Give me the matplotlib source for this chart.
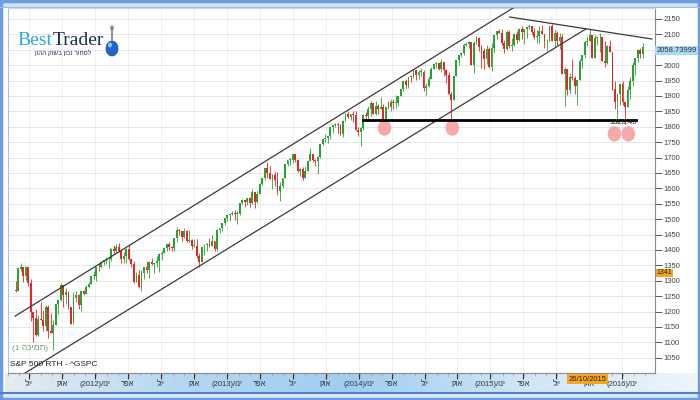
import numpy as np
import pandas as pd
import matplotlib
matplotlib.use('Agg')
import matplotlib.pyplot as plt
from matplotlib.patches import Ellipse, Rectangle
from matplotlib.colors import LinearSegmentedColormap

NARROW = ['Liberation Sans Narrow', 'Liberation Sans', 'DejaVu Sans']
SANS = ['Liberation Sans', 'DejaVu Sans']


def rtl(s):
    # matplotlib has no bidi support, hebrew has to be flipped by hand
    return s[::-1]


# S&P 500 weekly candles, first week ends 2011-06-24
first_week = '2011-06-24'

opens_2011 = [1271, 1268, 1339, 1343, 1316, 1345, 1292, 1199, 1179, 1124, 1177, 1174, 1154, 1216,
              1136, 1131, 1155, 1225, 1238, 1285, 1253, 1264, 1216, 1159, 1244, 1255, 1220, 1265]
highs_2011 = [1298, 1341, 1356, 1344, 1347, 1345, 1307, 1199, 1208, 1190, 1230, 1204, 1220, 1220,
              1195, 1171, 1224, 1239, 1293, 1285, 1277, 1267, 1216, 1264, 1267, 1256, 1265, 1269]
lows_2011 = [1262, 1267, 1333, 1295, 1303, 1282, 1168, 1101, 1120, 1121, 1172, 1136, 1136, 1114,
             1131, 1074, 1155, 1191, 1235, 1215, 1226, 1209, 1158, 1159, 1231, 1209, 1202, 1254]
closes_2011 = [1268, 1340, 1344, 1316, 1345, 1292, 1199, 1179, 1124, 1177, 1174, 1154, 1216, 1136,
               1131, 1155, 1225, 1238, 1285, 1253, 1264, 1216, 1159, 1244, 1255, 1220, 1265, 1258]

opens_2012 = [1258, 1278, 1289, 1315, 1316, 1345, 1343, 1361, 1366, 1370, 1371, 1404, 1397, 1408,
              1398, 1370, 1379, 1403, 1369, 1353, 1295, 1318, 1278, 1326, 1343, 1335, 1362, 1355,
              1357, 1363, 1386, 1391, 1406, 1418, 1411, 1407, 1438, 1466, 1460, 1441, 1461, 1429,
              1433, 1412, 1414, 1380, 1360, 1409, 1416, 1418, 1414, 1430]
highs_2012 = [1285, 1296, 1315, 1333, 1345, 1354, 1363, 1368, 1378, 1374, 1405, 1415, 1420, 1422,
              1398, 1392, 1406, 1415, 1369, 1365, 1328, 1335, 1335, 1343, 1364, 1362, 1375, 1357,
              1380, 1390, 1395, 1406, 1418, 1426, 1414, 1438, 1475, 1467, 1460, 1470, 1465, 1464,
              1435, 1434, 1434, 1389, 1409, 1420, 1424, 1439, 1448, 1430]
lows_2012 = [1258, 1275, 1289, 1306, 1300, 1333, 1341, 1352, 1355, 1340, 1365, 1386, 1391, 1392,
             1357, 1358, 1358, 1368, 1343, 1291, 1295, 1277, 1266, 1306, 1324, 1309, 1351, 1326,
             1346, 1329, 1366, 1391, 1398, 1399, 1397, 1396, 1425, 1450, 1430, 1439, 1425, 1426,
             1403, 1410, 1373, 1343, 1360, 1385, 1398, 1411, 1418, 1398]
closes_2012 = [1278, 1289, 1315, 1316, 1345, 1343, 1361, 1366, 1370, 1371, 1404, 1397, 1408, 1398,
               1370, 1379, 1403, 1369, 1353, 1295, 1318, 1278, 1326, 1343, 1335, 1362, 1355, 1357,
               1363, 1386, 1391, 1406, 1418, 1411, 1407, 1438, 1466, 1460, 1441, 1461, 1429, 1433,
               1412, 1414, 1380, 1360, 1409, 1416, 1418, 1414, 1430, 1402]

opens_2013 = [1402, 1466, 1472, 1486, 1503, 1513, 1518, 1520, 1516, 1518, 1551, 1561, 1557, 1569,
              1553, 1589, 1555, 1582, 1614, 1634, 1667, 1650, 1631, 1643, 1627, 1592, 1606, 1632,
              1680, 1692, 1692, 1710, 1691, 1656, 1664, 1633, 1655, 1688, 1710, 1692, 1690, 1703,
              1745, 1760, 1762, 1771, 1798, 1805, 1806, 1805, 1775, 1818]
highs_2013 = [1467, 1472, 1486, 1503, 1514, 1518, 1525, 1531, 1525, 1553, 1564, 1561, 1570, 1573,
              1597, 1589, 1592, 1618, 1635, 1667, 1687, 1674, 1648, 1654, 1654, 1620, 1632, 1680,
              1693, 1698, 1710, 1710, 1694, 1669, 1670, 1672, 1689, 1730, 1710, 1696, 1704, 1745,
              1760, 1775, 1771, 1798, 1805, 1813, 1811, 1809, 1823, 1844]
lows_2013 = [1398, 1456, 1463, 1482, 1495, 1495, 1514, 1497, 1485, 1514, 1548, 1538, 1546, 1539,
             1548, 1536, 1553, 1582, 1611, 1627, 1635, 1630, 1598, 1608, 1577, 1560, 1601, 1632,
             1673, 1676, 1681, 1684, 1654, 1639, 1627, 1633, 1655, 1688, 1687, 1674, 1646, 1700,
             1740, 1752, 1746, 1761, 1780, 1800, 1779, 1772, 1767, 1818]
closes_2013 = [1466, 1472, 1486, 1503, 1513, 1518, 1520, 1516, 1518, 1551, 1561, 1557, 1569, 1553,
               1589, 1555, 1582, 1614, 1634, 1667, 1650, 1631, 1643, 1627, 1592, 1606, 1632, 1680,
               1692, 1692, 1710, 1691, 1656, 1664, 1633, 1655, 1688, 1710, 1692, 1690, 1703, 1745,
               1760, 1762, 1771, 1798, 1805, 1806, 1805, 1775, 1818, 1841]

opens_2014 = [1841, 1831, 1842, 1839, 1790, 1783, 1797, 1839, 1836, 1859, 1878, 1841, 1867, 1858,
              1865, 1816, 1865, 1863, 1881, 1878, 1878, 1901, 1924, 1949, 1936, 1963, 1961, 1985,
              1968, 1978, 1978, 1925, 1932, 1955, 1988, 2003, 2008, 1986, 2010, 1983, 1968, 1906,
              1887, 1965, 2018, 2032, 2040, 2064, 2068, 2075, 2002, 2071]
highs_2014 = [1850, 1843, 1851, 1850, 1799, 1798, 1841, 1847, 1867, 1884, 1878, 1883, 1875, 1897,
              1873, 1865, 1884, 1891, 1889, 1902, 1901, 1924, 1950, 1955, 1963, 1968, 1985, 1985,
              1983, 1991, 1985, 1942, 1964, 1994, 2005, 2011, 2008, 2020, 2010, 1986, 1977, 1912,
              1965, 2018, 2034, 2041, 2071, 2075, 2079, 2075, 2077, 2094]
lows_2014 = [1828, 1823, 1815, 1790, 1771, 1737, 1791, 1825, 1826, 1835, 1840, 1839, 1840, 1858,
             1814, 1815, 1859, 1851, 1859, 1862, 1868, 1901, 1915, 1926, 1925, 1944, 1958, 1953,
             1955, 1965, 1916, 1904, 1928, 1955, 1988, 1992, 1984, 1978, 1965, 1941, 1906, 1821,
             1886, 1964, 2001, 2026, 2034, 2062, 2055, 2002, 1973, 2069]
closes_2014 = [1831, 1842, 1839, 1790, 1783, 1797, 1839, 1836, 1859, 1878, 1841, 1867, 1858, 1865,
               1816, 1865, 1863, 1881, 1878, 1878, 1901, 1924, 1949, 1936, 1963, 1961, 1985, 1968,
               1978, 1978, 1925, 1932, 1955, 1988, 2003, 2008, 1986, 2010, 1983, 1968, 1906, 1887,
               1965, 2018, 2032, 2040, 2064, 2068, 2075, 2002, 2071, 2089]

opens_2015 = [2089, 2058, 2045, 2019, 2052, 1995, 2055, 2097, 2110, 2105, 2071, 2053, 2108, 2061,
              2067, 2102, 2081, 2118, 2108, 2116, 2123, 2126, 2107, 2093, 2094, 2110, 2101, 2077,
              2077, 2127, 2080, 2104, 2078, 2092, 1971, 1989, 1921, 1961, 1958, 1931, 1951, 2015,
              2033, 2075, 2080, 2099, 2023, 2089, 2090, 2092, 2012, 2006]
highs_2015 = [2093, 2064, 2056, 2065, 2058, 2073, 2097, 2111, 2119, 2118, 2081, 2114, 2115, 2089,
              2103, 2111, 2120, 2126, 2117, 2124, 2134, 2127, 2121, 2115, 2127, 2129, 2101, 2086,
              2127, 2133, 2114, 2112, 2104, 2102, 1993, 1989, 1975, 2021, 1966, 1952, 2020, 2034,
              2080, 2094, 2116, 2099, 2097, 2095, 2104, 2092, 2077, 2067]
lows_2015 = [2046, 1992, 1988, 2004, 1990, 1981, 2041, 2086, 2103, 2067, 2040, 2050, 2056, 2045,
             2062, 2073, 2079, 2086, 2068, 2089, 2117, 2100, 2086, 2072, 2072, 2101, 2056, 2045,
             2077, 2079, 2063, 2067, 2052, 1970, 1867, 1903, 1909, 1953, 1908, 1872, 1951, 1990,
             2022, 2062, 2080, 2023, 2022, 2067, 2043, 2012, 1994, 2005]
closes_2015 = [2058, 2045, 2019, 2052, 1995, 2055, 2097, 2110, 2105, 2071, 2053, 2108, 2061, 2067,
               2102, 2081, 2118, 2108, 2116, 2123, 2126, 2107, 2093, 2094, 2110, 2101, 2077, 2077,
               2127, 2080, 2104, 2078, 2092, 1971, 1989, 1921, 1961, 1958, 1931, 1951, 2015, 2033,
               2075, 2080, 2099, 2023, 2089, 2090, 2092, 2012, 2006, 2061]

opens_2016 = [2061, 2044, 1922, 1880, 1907, 1940, 1880, 1865, 1918, 1948, 2000, 2022, 2050, 2036]
highs_2016 = [2082, 2044, 1950, 1908, 1940, 1947, 1881, 1931, 1962, 2009, 2023, 2053, 2057, 2072]
lows_2016 = [2044, 1918, 1857, 1812, 1872, 1872, 1810, 1865, 1891, 1931, 1969, 2011, 2023, 2022]
closes_2016 = [2044, 1922, 1880, 1907, 1940, 1880, 1865, 1918, 1948, 2000, 2022, 2050, 2036, 2059]

opens = opens_2011 + opens_2012 + opens_2013 + opens_2014 + opens_2015 + opens_2016
highs = highs_2011 + highs_2012 + highs_2013 + highs_2014 + highs_2015 + highs_2016
lows = lows_2011 + lows_2012 + lows_2013 + lows_2014 + lows_2015 + lows_2016
closes = closes_2011 + closes_2012 + closes_2013 + closes_2014 + closes_2015 + closes_2016

# drawn studies (week index, price)
channel_top_x = [-0.2, 198.2]
channel_top_y = [1185, 2189]
channel_bottom_x = [3.7, 226.4]
channel_bottom_y = [1000, 2117.5]
down_trend_x = [196.2, 252.7]
down_trend_y = [2156.5, 2085]
support_level = 1820.40
support_from, support_to = 138, 246.5
support_hits_x = [146.5, 173.4, 237.8, 243.3]
support_hits_y = [1796, 1796, 1777, 1777]

last_price = 2058.73999
cursor_price = 1341
cursor_date = '2015-10-26'

month_labels = ['יול', 'אוק', 'ינו', 'אפר'] * 5
label_years = {2: 2012, 6: 2013, 10: 2014, 14: 2015, 18: 2016}

y_ticks = np.arange(1050, 2151, 50)

# ---------------------------------------------------------------------------
o = np.array(opens, float)
h = np.array(highs, float)
l = np.array(lows, float)
c = np.array(closes, float)
weeks = pd.date_range(first_week, periods=len(c), freq='W-FRI')
x = np.arange(len(c))

fig = plt.figure(figsize=(7, 4), dpi=100)
fig.patch.set_facecolor('white')

# background in pixel coordinates
bg = fig.add_axes([0, 0, 1, 1], zorder=-1)
bg.set_xlim(0, 700)
bg.set_ylim(400, 0)
bg.axis('off')
band = LinearSegmentedColormap.from_list('band', ['#e6ecf2', '#b5d8f3', '#9fcef2', '#cfe6f7', '#eef5fb'])
bg.imshow(np.linspace(0, 1, 256)[None, :], cmap=band, extent=(5, 697, 392, 373), aspect='auto')
bg.add_patch(Rectangle((0, 0), 700, 7, fc='#cfe1f3', ec='none'))
bg.add_patch(Rectangle((0, 392), 700, 8, fc='#dce8f5', ec='none'))
bg.plot([0, 700], [392.5, 392.5], color='#4f7fc6', lw=1.5)
bg.plot([0, 700], [7, 7], color='#9dbde0', lw=0.8)
bg.add_patch(Rectangle((1, 1), 698, 398, fill=False, ec='#6b9be0', lw=2.5))

ax = fig.add_axes([8 / 700, 27 / 400, 647 / 700, 365 / 400])
ax.set_facecolor('white')
ax.set_xlim(-0.2, 253.9)
ax.set_ylim(1000.3, 2185.7)

up = c >= o
colors = np.where(up, '#25a52f', '#ea2229')
ax.vlines(x, np.minimum(l, np.minimum(o, c)), np.maximum(h, np.maximum(o, c)),
          colors=colors, lw=0.6, zorder=2)
ax.bar(x, np.maximum(np.abs(c - o), 2.5), bottom=np.minimum(o, c), width=0.74,
       color=colors, lw=0, zorder=2)

# studies
ax.plot(channel_top_x, channel_top_y, color='#3a3a3a', lw=0.9, zorder=3)
ax.plot(channel_bottom_x, channel_bottom_y, color='#3a3a3a', lw=0.9, zorder=3)
ax.plot(down_trend_x, down_trend_y, color='#3a3a3a', lw=0.9, zorder=3)
for hx, hy in zip(support_hits_x, support_hits_y):
    ax.add_patch(Ellipse((hx, hy), 5.4, 50, fc='#f4a0a0', ec='none', alpha=0.9, zorder=4))
ax.plot([support_from, support_to], [support_level, support_level], color='black', lw=2, zorder=5)
ax.text(support_to, support_level - 5, f'{support_level:.2f}', ha='right', va='center',
        fontsize=5.5, family=NARROW, color='#222', zorder=6)

# axes styling
ax.yaxis.tick_right()
ax.set_yticks(y_ticks)
# the 2050 label sits under the last price box, as in the platform
ax.set_yticklabels(['' if v == 2050 else str(v) for v in y_ticks],
                   family=NARROW, fontsize=5.5, color='#444')
ax.tick_params(axis='y', direction='out', length=5, width=0.7, color='#555', pad=1)

tick_pos = 5.3 + 13.09 * np.arange(19)
tick_lbl = []
for i, m in enumerate(month_labels[:19]):
    if i in label_years:
        tick_lbl.append(f'({label_years[i]})/' + rtl(m))
    else:
        tick_lbl.append(rtl(m))
ax.set_xticks(tick_pos)
ax.set_xticklabels(tick_lbl, family=SANS, fontsize=5.5, color='#333')
ax.set_xticks(np.arange(-3, 254, 13.09 / 3), minor=True)
ax.tick_params(axis='x', which='major', direction='out', length=4, width=0.8, color='#333', pad=2)
ax.tick_params(axis='x', which='minor', direction='out', length=2, width=0.6, color='#e88a8a')

ax.grid(axis='y', color='#e2e2e2', lw=0.6, zorder=0)
ax.grid(axis='x', which='major', color='#eeeeee', lw=0.6, zorder=0)
ax.set_axisbelow(True)
ax.spines['left'].set_color('#a9c3df')
ax.spines['top'].set_color('#c3d5e8')
ax.spines['right'].set_color('#8a8a8a')
ax.spines['bottom'].set_color('#8a8a8a')
for s in ax.spines.values():
    s.set_linewidth(0.8)

# price / cursor markers
ytr = ax.get_yaxis_transform()
ax.text(1.002, last_price, f'{last_price:.5f}', transform=ytr, ha='left', va='top',
        fontsize=5.5, family=NARROW, color='#333', clip_on=False, zorder=10,
        bbox=dict(boxstyle='square,pad=0.15', fc='#a9d9f5', ec='none'))
ax.text(1.002, cursor_price - 4, str(cursor_price), transform=ytr, ha='left', va='top',
        fontsize=5, family=NARROW, color='#222', clip_on=False, zorder=10,
        bbox=dict(boxstyle='square,pad=0.1', fc='#f7a520', ec='none'))
cur_idx = int(weeks.searchsorted(pd.Timestamp(cursor_date)))
ax.text(cur_idx, -0.0165, pd.Timestamp(cursor_date).strftime('%d/%m/%Y'),
        transform=ax.get_xaxis_transform(), ha='center', va='center', fontsize=5.5,
        family=NARROW, color='#222', clip_on=False, zorder=10,
        bbox=dict(boxstyle='square,pad=0.2', fc='#f7a520', ec='none'))

# overlay: logo and captions, pixel coordinates
ov = fig.add_axes([0, 0, 1, 1], zorder=5)
ov.set_xlim(0, 700)
ov.set_ylim(400, 0)
ov.axis('off')
ov.patch.set_alpha(0)
ov.text(52, 45, 'Best', family=['Liberation Serif', 'DejaVu Serif'], fontsize=14,
        color='#2ba7df', va='baseline', ha='right')
ov.text(53, 45, 'Trader', family=['Liberation Serif', 'DejaVu Serif'], fontsize=14,
        color='#1b2b5b', va='baseline', ha='left')
ov.text(63, 53, rtl('לסחור נכון בשוק ההון'), family=SANS, fontsize=4.6,
        color='#1b2b5b', ha='center', va='center')
ov.add_patch(Ellipse((112, 48.5), 12, 15, fc='#2466c9', ec='#1a4e9e', lw=0.5))
ov.add_patch(Ellipse((110, 45), 4, 5, fc='#8fc2f2', ec='none'))
ov.plot([112, 112], [27, 40], color='#7a7f88', lw=1.2)
ov.add_patch(Ellipse((112, 28), 4, 5, fc='#9aa0a8', ec='none'))

ov.text(12, 349, '(1 ' + rtl('תמיכה') + ')', family=SANS, fontsize=6, color='#6f9f6f',
        ha='left', va='center')
ov.text(10, 364, 'S&P 500 RTH - ^GSPC', family=SANS, fontsize=6, color='#222',
        ha='left', va='center')

fig.savefig('out.png', dpi=100)
